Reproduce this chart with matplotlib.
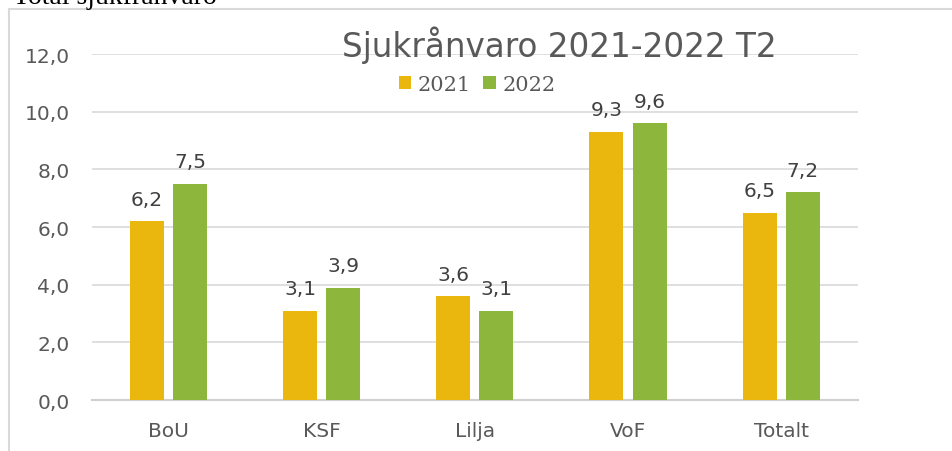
import numpy as np
import matplotlib
matplotlib.use('Agg')
import matplotlib.pyplot as plt
from matplotlib.lines import Line2D

# Sjukfrånvaro per verksamhet, T2
categories = ['BoU', 'KSF', 'Lilja', 'VoF', 'Totalt']
years = ['2021', '2022']
values_2021 = [6.2, 3.1, 3.6, 9.3, 6.5]
values_2022 = [7.5, 3.9, 3.1, 9.6, 7.2]
colors = ['#EAB70F', '#8DB63C']

grey = '#595959'
fig = plt.figure(figsize=(9.53, 4.52), dpi=100)
ax = fig.add_axes([0.0965, 0.1128, 0.8035, 0.7655])

x = np.arange(len(categories))
w = 0.222
off = 0.141
for vals, dx, col, lab in [(values_2021, -off, colors[0], years[0]),
                           (values_2022, off, colors[1], years[1])]:
    bars = ax.bar(x + dx, vals, width=w, color=col, label=lab, zorder=3)
    for b, v in zip(bars, vals):
        ax.annotate(f'{v:.1f}'.replace('.', ','),
                    (b.get_x() + b.get_width() / 2, v),
                    xytext=(0, 9), textcoords='offset points',
                    ha='center', va='bottom', fontsize=14.5, color='#404040')

ax.set_xlim(-0.5, len(categories) - 0.5)
ax.set_ylim(0, 12)
ax.set_yticks(np.arange(0, 12.1, 2))
ax.set_yticklabels([f'{t:.1f}'.replace('.', ',') for t in np.arange(0, 12.1, 2)])
ax.set_xticks(x)
ax.set_xticklabels(categories)
ax.tick_params(axis='both', length=0, labelsize=14.5, labelcolor=grey)
ax.tick_params(axis='y', pad=16)
ax.tick_params(axis='x', pad=15)
ax.grid(axis='y', color='#D9D9D9', linewidth=1.2, zorder=0)
for s in ['top', 'right', 'left']:
    ax.spines[s].set_visible(False)
ax.spines['bottom'].set_color('#D0D0D0')
ax.spines['bottom'].set_linewidth(1.5)

# title and legend
fig.text(0.587, 1 - 57 / 452, 'Sjukrånvaro 2021-2022 T2', ha='center', va='baseline',
         fontsize=23.5, color=grey)
ax.legend(loc='center', bbox_to_anchor=(0.503, 0.913), ncol=2, frameon=False,
          prop={'family': 'DejaVu Serif', 'size': 15}, labelcolor=grey,
          handlelength=0.6, handleheight=0.6, handletextpad=0.3, columnspacing=0.6,
          borderpad=0)

# chart frame and heading above it
fig.add_artist(Line2D([9.5 / 953, 9.5 / 953], [0, 1 - 9.5 / 452], color='#D9D9D9', lw=1.5))
fig.add_artist(Line2D([9.5 / 953, 1], [1 - 9.5 / 452, 1 - 9.5 / 452], color='#D9D9D9', lw=1.5))
fig.text(13 / 953, 1 - 4 / 452, 'Total sjukfrånvaro', ha='left', va='baseline',
         family='Liberation Serif', fontsize=20, color='black')

fig.savefig('out.png', dpi=100)
